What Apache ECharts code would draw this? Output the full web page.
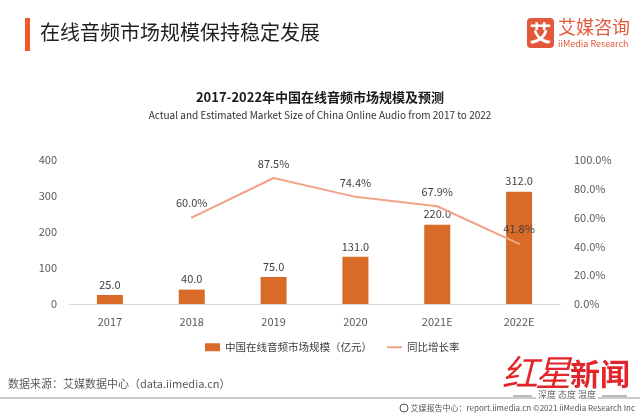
<!DOCTYPE html>
<html><head><meta charset="utf-8">
<script src="https://cdn.jsdelivr.net/npm/echarts@6/dist/echarts.min.js"></script>
<style>html,body{margin:0;padding:0;background:#fff}#c{width:640px;height:416px}</style>
</head><body><div id="c"></div>
<script>
const categories = ['2017','2018','2019','2020','2021E','2022E'];
const marketSize = [25.0, 40.0, 75.0, 131.0, 220.0, 312.0];
const growthRate = [null, 60.0, 87.5, 74.4, 67.9, 41.8];
const leftTicks = [0, 100, 200, 300, 400];
const rightTicks = [0, 20, 40, 60, 80, 100];

const FONT = '"Noto Sans CJK SC","Noto Sans",sans-serif';
const BAR = '#d76b27', LINE = '#f2a386';
const chart = echarts.init(document.getElementById('c'), null, {renderer:'canvas'});
chart.setOption({
  backgroundColor:'#fff',
  textStyle:{fontFamily:FONT},
  animation:false,
  title:[
    {text:'2017-2022年中国在线音频市场规模及预测', left:'center', top:86,
     textStyle:{fontSize:13, fontWeight:'bold', color:'#1a1a1a', fontFamily:FONT}},
    {text:'Actual and Estimated Market Size of China Online Audio from 2017 to 2022', left:'center', top:105,
     textStyle:{fontSize:10, fontWeight:'normal', color:'#333', fontFamily:FONT}}
  ],
  legend:[
    {left:200, top:337, itemWidth:15, itemHeight:8, itemGap:20,
     textStyle:{fontSize:10.5, color:'#404040', fontFamily:FONT},
     data:[{name:'中国在线音频市场规模（亿元）', icon:'rect'}]},
    {left:382, top:337, itemWidth:15, itemHeight:2, itemGap:20,
     textStyle:{fontSize:10.5, color:'#404040', fontFamily:FONT},
     data:[{name:'同比增长率', icon:'rect'}]}
  ],
  grid:{left:69, right:80, top:160, bottom:112},
  xAxis:{
    type:'category', data:categories,
    axisLine:{lineStyle:{color:'#d9d9d9', width:1}},
    axisTick:{show:false},
    axisLabel:{color:'#595959', fontSize:11, margin:12, fontFamily:FONT}
  },
  yAxis:[
    {type:'value', min:leftTicks[0], max:leftTicks[leftTicks.length-1], interval:100,
     splitLine:{show:false}, axisLine:{show:false}, axisTick:{show:false},
     axisLabel:{color:'#595959', fontSize:11, margin:12, fontFamily:FONT}},
    {type:'value', min:rightTicks[0], max:rightTicks[rightTicks.length-1], interval:20,
     splitLine:{show:false}, axisLine:{show:false}, axisTick:{show:false},
     axisLabel:{color:'#595959', fontSize:11, margin:14, fontFamily:FONT,
       formatter:v=>v.toFixed(1)+'%'}}
  ],
  series:[
    {name:'中国在线音频市场规模（亿元）', type:'bar', data:marketSize, barWidth:26,
     itemStyle:{color:BAR},
     label:{show:true, position:'top', distance:5, color:'#404040', fontSize:11, fontFamily:FONT,
       formatter:p=>p.value.toFixed(1)}},
    {name:'同比增长率', type:'line', yAxisIndex:1, data:growthRate, showSymbol:true, symbol:'circle', symbolSize:2,
     lineStyle:{color:LINE, width:2}, itemStyle:{color:LINE},
     label:{show:true, position:'top', distance:8, color:'#404040', fontSize:11, fontFamily:FONT,
       formatter:p=>p.value==null?'':p.value.toFixed(1)+'%'}}
  ],
  graphic:[
    {type:'rect', shape:{x:25, y:18, width:5, height:33}, style:{fill:'#f05a28'}},
    {type:'text', left:40, top:22, style:{text:'在线音频市场规模保持稳定发展', fontSize:20, fill:'#1f1f1f', fontFamily:FONT}},
    {type:'rect', shape:{x:527, y:18, width:27, height:30, r:4}, style:{fill:'#e2583a'}},
    {type:'text', x:540.5, y:33, style:{text:'艾', fontSize:22, fontWeight:'bold', fill:'#fff', align:'center', verticalAlign:'middle', fontFamily:FONT}},
    {type:'text', x:558, y:18, style:{text:'艾媒咨询', fontSize:18, fill:'#e2583a', fontFamily:FONT}},
    {type:'text', x:558, y:39, style:{text:'iiMedia Research', fontSize:9, fill:'#e2583a', fontFamily:FONT}},
    {type:'text', x:8, y:378, style:{text:'数据来源：艾媒数据中心（data.iimedia.cn）', fontSize:11, fill:'#595959', fontFamily:FONT}},
    {type:'line', shape:{x1:0, y1:398, x2:640, y2:398}, style:{stroke:'#999', lineWidth:1}},
    {type:'text', x:520, y:372, style:{text:'红', fontSize:36, fontStyle:'italic', fill:'#e3262b', align:'center', verticalAlign:'middle', fontFamily:FONT}},
    {type:'text', x:553, y:372, style:{text:'星', fontSize:36, fontStyle:'italic', fill:'#e3262b', align:'center', verticalAlign:'middle', fontFamily:FONT}},
    {type:'text', x:600, y:374, style:{text:'新闻', fontSize:30, fontWeight:'bold', fill:'#e3262b', align:'center', verticalAlign:'middle', fontFamily:FONT}},
    {type:'line', shape:{x1:513, y1:396, x2:532, y2:396}, style:{stroke:'#777', lineWidth:1}},
    {type:'line', shape:{x1:602, y1:396, x2:627, y2:396}, style:{stroke:'#777', lineWidth:1}},
    {type:'text', x:567, y:395, style:{text:'深度 态度 温度', fontSize:9, fill:'#666', align:'center', verticalAlign:'middle', fontFamily:FONT, backgroundColor:'#fff', padding:[0,2]}},
    {type:'circle', shape:{cx:404, cy:408, r:4}, style:{fill:'none', stroke:'#555', lineWidth:1}},
    {type:'text', x:635, y:408, style:{text:'艾媒报告中心：report.iimedia.cn ©2021 iiMedia Research Inc', fontSize:8, fill:'#555', align:'right', verticalAlign:'middle', fontFamily:FONT}}
  ]
});
</script></body></html>
